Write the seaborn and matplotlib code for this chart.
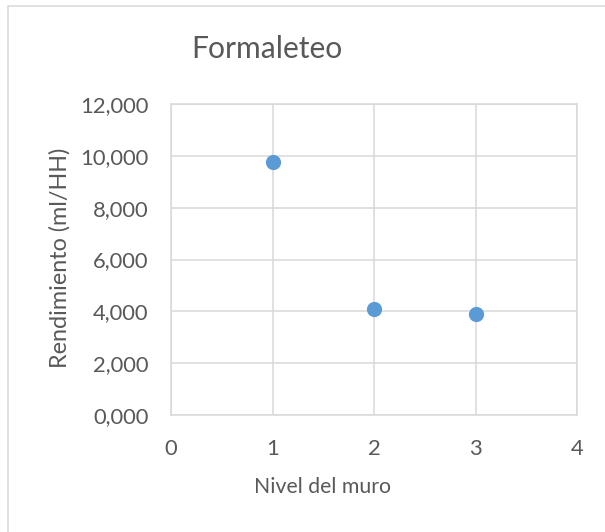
import matplotlib
matplotlib.use("Agg")
import matplotlib.pyplot as plt
from matplotlib.lines import Line2D
from matplotlib.ticker import FuncFormatter
import seaborn as sns
import pandas as pd

# Wall level vs. formwork productivity
nivel = [1, 2, 3]
rendimiento = [9.76, 4.08, 3.91]
x_ticks = [0, 1, 2, 3, 4]
y_ticks = [0, 2, 4, 6, 8, 10, 12]

sns.set_theme(style="white")
plt.rcParams["font.family"] = ["Lato", "DejaVu Sans"]

text_gray = "#595959"
grid_gray = "#D9D9D9"
point_blue = "#5B9BD5"

W, H = 605, 532
fig = plt.figure(figsize=(W / 100, H / 100), dpi=100)
ax = fig.add_axes([171 / W, 1 - 415 / H, (577 - 171) / W, (415 - 104) / H])

df = pd.DataFrame({"Nivel": nivel, "Rendimiento": rendimiento})
sns.scatterplot(data=df, x="Nivel", y="Rendimiento", ax=ax,
                s=120, color=point_blue, edgecolor=point_blue,
                linewidth=0, zorder=3)

ax.set_xlim(0, 4)
ax.set_ylim(0, 12)
ax.set_xticks(x_ticks)
ax.set_yticks(y_ticks)
ax.yaxis.set_major_formatter(FuncFormatter(lambda v, p: f"{int(v)},000"))
ax.grid(True, color=grid_gray, linewidth=1.1)
ax.set_axisbelow(True)
for sp in ax.spines.values():
    sp.set_color(grid_gray)
    sp.set_linewidth(1.1)
ax.tick_params(axis="both", length=0, labelsize=15.8, labelcolor=text_gray)
ax.tick_params(axis="x", pad=17)
ax.tick_params(axis="y", pad=16)
ax.set_xlabel("")
ax.set_ylabel("")

fig.text(267 / W, 1 - 49 / H, "Formaleteo", ha="center", va="center",
         fontsize=21.6, color=text_gray)
fig.text(323 / W, 1 - 487 / H, "Nivel del muro", ha="center", va="center",
         fontsize=15.3, color=text_gray)
fig.text(60 / W, 1 - 258 / H, "Rendimiento (ml/HH)", ha="center", va="center",
         rotation=90, fontsize=16.8, color=text_gray)

# chart area frame (left and top edges)
fig.add_artist(Line2D([7.5 / W, 7.5 / W], [0, 1 - 5.5 / H],
                      transform=fig.transFigure, color=grid_gray, linewidth=1.1))
fig.add_artist(Line2D([7.5 / W, 1], [1 - 5.5 / H, 1 - 5.5 / H],
                      transform=fig.transFigure, color=grid_gray, linewidth=1.1))

fig.savefig("out.png", dpi=100, facecolor="white")
